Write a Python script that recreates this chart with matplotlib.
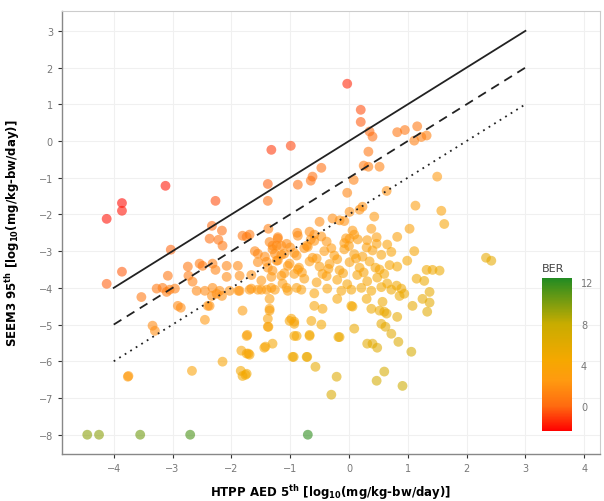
import matplotlib
matplotlib.use("Agg")
import matplotlib.pyplot as plt
import numpy as np
from matplotlib.colors import LinearSegmentedColormap, Normalize
from matplotlib.cm import ScalarMappable

# ---- data (log10 units) ----
htpp_aed = [
    -3.86, -3.86, -4.12, -3.12, -1.32, -0.99, -0.03, 0.20, 0.20, 0.35, 0.40, 0.33,
    0.82, 0.95, 1.16, 1.11, 1.23, 1.32, 0.25, 0.33, 0.52, -0.47, -0.62, -0.65,
    -0.87, -1.38, 0.08, -0.03, 0.64, 1.50, -1.38, -2.27, 1.13, 1.57, 1.62, 1.03, 0.82,
    -2.33, -2.16, -2.22, -2.37, -2.15, -1.81, -1.74, -3.03, -3.86, -4.12, -3.08,
    -2.74, -2.73, -2.66, -2.49, -2.32, -2.27, -2.08, -2.08, -1.89, -1.86,
    -3.27, -3.17, -3.05, -3.10, -2.96, -2.45, -2.32, -2.16, -2.33, -1.86, -3.53,
    -2.91, -2.86, -2.37, -1.81, -2.45, -3.34,
    -1.55, -1.40, -1.23, -1.30, -1.15, -1.01, -0.89, -2.54, -2.25, -2.40,
    -2.59, -2.20, -2.03, -1.88, -1.69, -1.55, -1.40, -1.26, -1.06, -0.89,
    -1.74, -1.83, -1.74, -1.69, -2.15, -1.84, -1.76, -2.67, -3.75, -1.42, -1.30,
    -1.37, -1.35, -1.35, -1.01, -0.93, -0.93, -0.96,
    -1.37, -1.23, -0.88,
    -0.50, -0.28, -0.16, 0.01, 0.18, 0.43, 0.38, 0.06, 0.01, 0.47, -0.38, -0.67, -0.72,
    -0.59, -0.08, 0.23,
    -1.21, -1.30, -1.15, -1.10, -1.26,
    -1.69, -1.35, -1.21, -1.06, -0.87, -0.59, -0.47, -0.08, 0.09, 0.31, 0.47, 0.65,
    -1.60, -1.43, -1.30, -1.15, -0.93, -0.76, -0.62, -0.42, -0.25, -0.08, 0.09, 0.23, 0.40, 0.55, 0.72,
    -1.55, -1.38, -1.21, -1.04, -0.87, -0.67, -0.50, -0.33, -0.16, 0.01, 0.18, 0.35, 0.52, 0.69,
    -1.66, -1.49, -1.32, -1.13, -0.93, -0.76, -0.55, -0.38, -0.20, -0.03, 0.14, 0.31, 0.48, 0.65,
    -1.66, -1.49, -1.32, -1.04, -0.81, -0.59, -0.37, -0.13, 0.04, 0.21, 0.38, 0.55, 0.72,
    -1.00, -0.70, -0.30, 0.00, 0.30, -1.10, -0.80, -0.45, -0.10, 0.25, 0.60,
    -0.55, -0.20, 0.12, -0.85, -0.35, 0.45, -0.05, -0.65, 0.15,
    -1.35, -1.38, -0.59, -0.45, -0.98, -0.93, -0.64, -0.47, -0.20, 0.04, 0.30, 0.38,
    0.57, 0.60, 0.55, -1.38,
    1.11, 0.99, 0.82, 1.32, 1.42, 1.54, 1.15, 1.28, 0.81, 0.89, 0.94, 0.86, 1.37,
    1.25, 1.37, 1.08, 1.33, 0.82, 2.33, 2.42,
    1.06, 0.60, 0.47, 0.91, -0.21, -0.30, -0.57, -0.72, 0.09, -0.18, 0.31, 0.40,
    0.48, 0.62, 0.84, -0.67, 0.52, 0.64, 0.06,
    -1.73, -1.71, -1.44, -0.89, -0.67, -0.94, -0.71, -0.16, -1.74, 0.72,
    -3.76, -1.81, -3.30,
]
seem3_exp = [
    -1.69, -1.90, -2.12, -1.22, -0.24, -0.13, 1.56, 0.85, 0.52, 0.26, 0.12, -0.29,
    0.24, 0.30, 0.40, 0.01, 0.11, 0.15, -0.67, -0.70, -0.70, -0.73, -0.97, -1.08,
    -1.19, -1.17, -1.06, -1.41, -1.36, -0.97, -1.63, -1.63, -1.76, -1.90, -2.26, -2.39, -2.61,
    -2.31, -2.44, -2.69, -2.66, -2.85, -2.58, -2.61, -2.96, -3.56, -3.89, -3.67,
    -3.42, -3.67, -3.83, -3.40, -3.34, -3.51, -3.40, -3.70, -3.40, -3.67,
    -4.02, -4.00, -4.05, -4.11, -4.02, -4.08, -4.00, -4.22, -4.22, -4.08, -4.25,
    -4.49, -4.54, -4.49, -4.62, -4.87, -5.03,
    -3.07, -3.29, -3.26, -3.53, -3.67, -3.34, -3.12, -3.34, -4.16, -4.49,
    -4.08, -4.08, -4.08, -4.08, -4.05, -4.05, -4.05, -4.05, -4.00, -4.00,
    -5.31, -5.71, -5.79, -5.82, -6.01, -6.26, -6.37, -6.26, -6.40, -5.60, -5.52,
    -5.06, -4.62, -4.30, -4.90, -4.98, -5.31, -5.88,
    -2.39, -2.85, -2.50,
    -2.20, -2.11, -2.16, -1.93, -1.87, -2.06, -2.39, -2.44, -2.66, -2.80, -2.74, -2.47, -2.85,
    -2.55, -2.18, -1.79,
    -2.66, -2.85, -2.85, -3.07, -3.07,
    -2.55, -2.75, -2.62, -2.80, -2.58, -2.72, -2.60, -2.78, -2.55, -2.70, -2.62, -2.82,
    -3.00, -3.15, -2.95, -3.10, -3.05, -2.92, -3.18, -3.00, -3.12, -2.95, -3.08, -3.15, -2.98, -3.10, -3.02,
    -3.30, -3.45, -3.25, -3.40, -3.50, -3.28, -3.42, -3.35, -3.52, -3.30, -3.45, -3.28, -3.50, -3.38,
    -3.65, -3.80, -3.70, -3.88, -3.62, -3.75, -3.85, -3.68, -3.78, -3.90, -3.65, -3.82, -3.72, -3.88,
    -4.02, -4.05, -4.00, -4.08, -4.05, -4.15, -4.02, -4.08, -4.05, -4.00, -4.08, -3.98, -4.05,
    -2.90, -2.88, -2.92, -2.86, -2.90, -3.60, -3.58, -3.62, -3.60, -3.58, -3.62,
    -3.20, -3.22, -3.20, -3.45, -3.48, -3.45, -2.65, -2.68, -2.68,
    -4.57, -4.84, -4.49, -4.57, -4.84, -4.92, -4.90, -5.00, -4.30, -4.49, -4.30, -4.57,
    -4.38, -4.65, -4.98, -5.06,
    -3.00, -3.26, -3.42, -3.51, -3.51, -3.53, -3.75, -3.81, -3.94, -4.02, -4.16, -4.22, -4.11,
    -4.30, -4.40, -4.49, -4.65, -4.79, -3.18, -3.26,
    -5.74, -6.28, -6.53, -6.67, -6.42, -6.91, -6.15, -5.88, -5.11, -5.34, -5.52, -5.52,
    -5.63, -5.06, -5.47, -5.31, -4.62, -4.70, -4.51,
    -5.28, -5.79, -5.63, -5.31, -5.28, -5.88, -5.88, -5.34, -6.34, -5.25,
    -6.42, -6.40, -5.17,
]
cens_aed = [-4.45, -4.25, -3.55, -2.70, -0.70]
cens_exp = [-8.0, -8.0, -8.0, -8.0, -8.0]
cens_ber = [9.6, 9.6, 10.3, 11.3, 12.0]

ref_x = [-4, 3]
ref_offsets = [0, -1, -2]
ref_styles = ["-", (0, (5, 3.5)), (0, (1, 2.6))]

x = np.array(htpp_aed)
y = np.array(seem3_exp)
ber = x - y

vmin, vmax = -2.4, 12.4
def frac(v):
    return (v - vmin) / (vmax - vmin)

cmap = LinearSegmentedColormap.from_list(
    "ber", [(0.0, "#FF0000"), (frac(0), "#FF6A10"), (frac(2.5), "#FF9A10"),
            (frac(4.5), "#F5A800"), (frac(8), "#C8AC00"), (1.0, "#228B22")])
norm = Normalize(vmin=vmin, vmax=vmax)

fig = plt.figure(figsize=(6.04, 5.02), dpi=100)
ax = fig.add_axes([0.1026, 0.094, 0.890, 0.882])

ax.set_xlim(-4.88, 4.26)
ax.set_ylim(-8.52, 3.54)
ax.set_xticks([-4, -3, -2, -1, 0, 1, 2, 3, 4])
ax.set_yticks([3, 2, 1, 0, -1, -2, -3, -4, -5, -6, -7, -8])
ax.grid(True, color="#F0F0F0", linewidth=0.8)
ax.set_axisbelow(True)

ax.scatter(x, y, c=ber, cmap=cmap, norm=norm, s=50, alpha=0.58,
           edgecolors="none", zorder=2)
ax.scatter(cens_aed, cens_exp, c=cens_ber, cmap=cmap, norm=norm, s=50,
           alpha=0.6, edgecolors="none", zorder=2)

rx = np.array(ref_x, dtype=float)
for off, ls in zip(ref_offsets, ref_styles):
    ax.plot(rx, rx + off, color="#222222", linestyle=ls, linewidth=1.3, zorder=3)

for side in ["top", "right"]:
    ax.spines[side].set_color("#CCCCCC")
    ax.spines[side].set_linewidth(0.8)
for side in ["left", "bottom"]:
    ax.spines[side].set_color("#888888")
    ax.spines[side].set_linewidth(1.0)
ax.tick_params(axis="both", colors="#333333", labelcolor="#777777",
               labelsize=7, length=3, width=0.8)

ax.set_xlabel("HTPP AED 5$^{\\mathbf{th}}$ [log$_{\\mathbf{10}}$(mg/kg-bw/day)]",
              fontsize=8.5, fontweight="bold", labelpad=7)
ax.set_ylabel("SEEM3 95$^{\\mathbf{th}}$ [log$_{\\mathbf{10}}$(mg/kg-bw/day)]",
              fontsize=8.5, fontweight="bold", labelpad=12)

cax = fig.add_axes([0.897, 0.139, 0.050, 0.305])
sm = ScalarMappable(norm=norm, cmap=cmap)
cb = fig.colorbar(sm, cax=cax, ticks=[0, 4, 8, 12])
cb.outline.set_visible(False)
cb.ax.tick_params(labelsize=7, labelcolor="#777777", color="white", length=3)
cb.ax.set_title("BER", fontsize=8, color="#444444", loc="left", pad=5)

fig.savefig("out.png", dpi=100)
